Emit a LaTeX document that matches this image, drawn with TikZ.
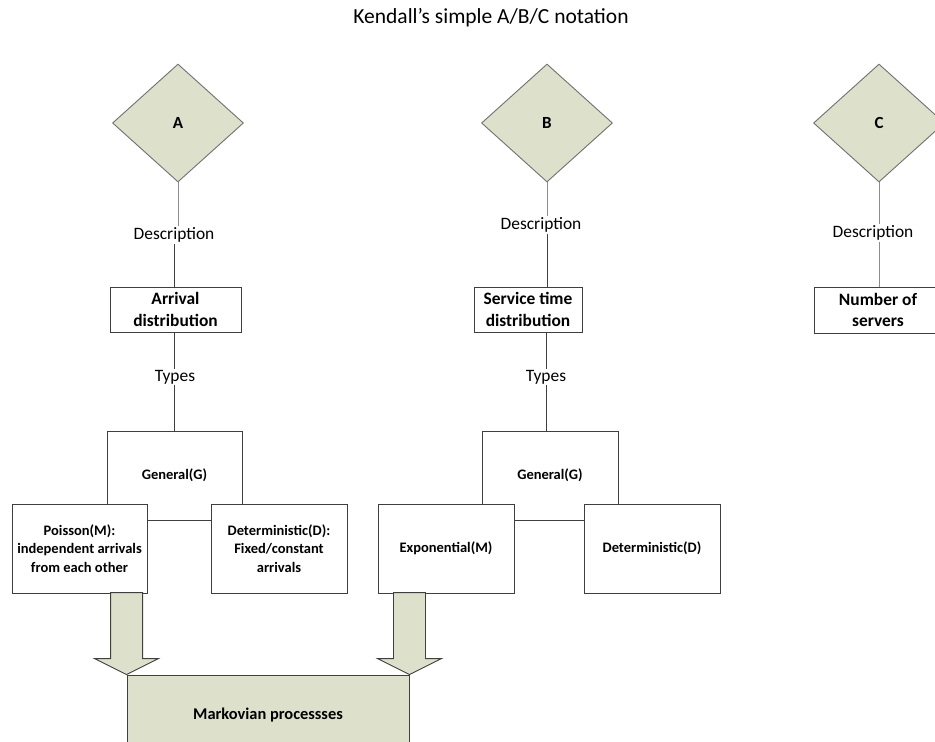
\documentclass[tikz,border=0pt]{standalone}
\usepackage{fontspec}
\setmainfont{Carlito}
\usepackage{xcolor}
\usetikzlibrary{shapes.geometric}
\usetikzlibrary{positioning}

\definecolor{sage}{HTML}{DDE1CC}
\definecolor{linkgray}{HTML}{8C8C8C}
\definecolor{boxline}{HTML}{3F3F3F}

\tikzset{
  letter/.style={diamond, draw=linkgray!80!black, fill=sage, line width=0.9pt,
    minimum width=131pt, minimum height=118pt, inner sep=0pt,
    font=\fontsize{17}{20}\selectfont\bfseries},
  linktext/.style={inner sep=1pt, font=\fontsize{17.4}{20}\selectfont},
  topic/.style={rectangle, draw=boxline, fill=white, line width=0.9pt,
    minimum height=45pt, align=center, inner sep=0pt,
    font=\fontsize{17.4}{21.5}\selectfont\bfseries},
  kind/.style={rectangle, draw=boxline, fill=white, line width=0.9pt,
    minimum width=135pt, minimum height=89pt, align=center, inner sep=0pt,
    font=\fontsize{14.5}{18.5}\selectfont\bfseries},
  link/.style={draw=linkgray, line width=1pt},
  linkdark/.style={draw=boxline, line width=1pt},
  blockarrow/.style={draw=boxline, fill=sage, line width=0.9pt, line join=miter}
}

\begin{document}
\begin{tikzpicture}[x=1pt, y=-1pt]
  \useasboundingbox (0,0) rectangle (935,742);

  % Title
  \node[font=\fontsize{21.5}{24}\selectfont] (title) at (491,18) {Kendall's simple A/B/C notation};

  % Define nodes
  \node[letter] (A) at (178,123) {A};
  \node[letter] (B) at (547,123) {B};
  \node[letter] (C) at (879,123) {C};

  \node[linktext] (descA) at (174,235) {Description};
  \node[linktext] (descB) at (541,225) {Description};
  \node[linktext] (descC) at (873,233) {Description};

  \node[topic, minimum width=131pt] (arrival) at (175.5,309.5) {Arrival\\distribution};
  \node[topic, minimum width=108pt] (service) at (528,309.5) {Service time\\distribution};
  \node[topic, minimum width=128pt, minimum height=46pt] (servers) at (878,310) {Number of\\servers};

  \node[linktext] (typesA) at (175,377) {Types};
  \node[linktext] (typesB) at (546,377) {Types};

  \node[kind] (genA) at (174.5,475.5) {General(G)};
  \node[kind] (poisson) at (79.5,548.5) {Poisson(M):\\independent arrivals\\from each other};
  \node[kind, minimum width=136pt] (detA) at (279,548.5) {Deterministic(D):\\Fixed/constant\\arrivals};

  \node[kind, minimum width=136pt] (genB) at (550,475.5) {General(G)};
  \node[kind, minimum width=136pt] (expo) at (446,548.5) {Exponential(M)};
  \node[kind, minimum width=136pt] (detB) at (652,548.5) {Deterministic(D)};

  \node[rectangle, draw=boxline, fill=sage, line width=0.9pt,
    minimum width=282pt, minimum height=80pt,
    font=\fontsize{16.4}{19}\selectfont\bfseries] (markov) at (268,715) {Markovian processses};

  % Connect nodes
  \draw[link] (A.south) -- (descA.north -| A.south);
  \draw[linkdark] (descA.south) -- (descA.south |- arrival.north);
  \draw[linkdark] (arrival.south -| descA.south) -- (typesA.north -| descA.south);
  \draw[linkdark] (typesA.south -| descA.south) -- (descA.south |- genA.north);

  \draw[link] (B.south) -- (descB.north -| B.south);
  \draw[linkdark] (descB.south -| B.south) -- (B.south |- service.north);
  \draw[linkdark] (service.south -| typesB.south) -- (typesB.north);
  \draw[linkdark] (typesB.south) -- (typesB.south |- genB.north);

  \draw[link] (C.south) -- (descC.north -| C.south);
  \draw[link] (descC.south -| C.south) -- (C.south |- servers.north);

  % Block arrows
  \foreach \tip in {markov.north west, markov.north east}
    \draw[blockarrow] (\tip) -- ++(-32,-16) -- ++(16,0) -- ++(0,-66) -- ++(32,0)
      -- ++(0,66) -- ++(16,0) -- cycle;

\end{tikzpicture}
\end{document}
